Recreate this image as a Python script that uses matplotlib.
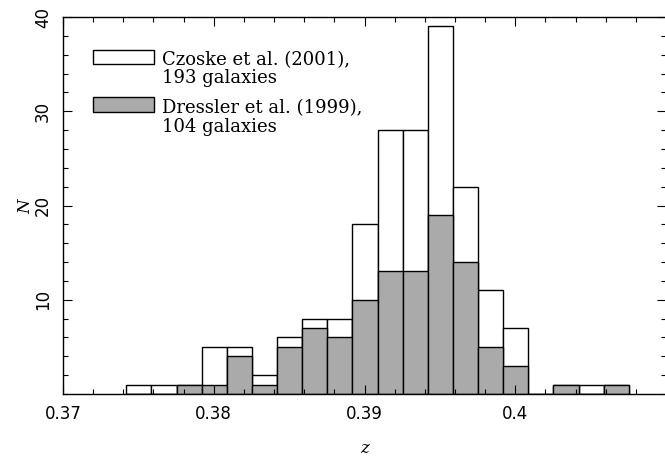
import numpy as np
import matplotlib.pyplot as plt
from matplotlib.patches import Rectangle
from matplotlib.ticker import MultipleLocator

# --------------------------------------------------
# Histogram counts per redshift bin
# --------------------------------------------------
bin_edges = np.linspace(0.3742, 0.40753, 21)
czoske_counts = [1, 1, 1, 5, 5, 2, 6, 8, 8, 18, 28, 28, 39, 22, 11, 7, 0, 1, 1, 1]
dressler_counts = [0, 0, 1, 1, 4, 1, 5, 7, 6, 10, 13, 13, 19, 14, 5, 3, 0, 1, 0, 1]

czoske_label = ["Czoske et al. (2001),", "193 galaxies"]
dressler_label = ["Dressler et al. (1999),", "104 galaxies"]

x_ticks = [0.37, 0.38, 0.39, 0.40]
x_tick_labels = ["0.37", "0.38", "0.39", "0.4"]
y_ticks = [10, 20, 30, 40]

GRAY = "#aaaaaa"

fig = plt.figure(figsize=(6.65, 4.57), dpi=100)
ax = fig.add_axes([63 / 665, 1 - 394 / 457, 603 / 665, 377 / 457])

widths = np.diff(bin_edges)
ax.bar(bin_edges[:-1], czoske_counts, width=widths, align="edge",
       facecolor="white", edgecolor="black", linewidth=1.0)
ax.bar(bin_edges[:-1], dressler_counts, width=widths, align="edge",
       facecolor=GRAY, edgecolor="black", linewidth=1.0)

ax.set_xlim(0.37, 0.41)
ax.set_ylim(0, 40)

ax.set_xticks(x_ticks)
ax.set_xticklabels(x_tick_labels)
ax.set_yticks(y_ticks)
ax.set_yticklabels([str(v) for v in y_ticks], rotation=90, va="center")
ax.xaxis.set_minor_locator(MultipleLocator(0.002))
ax.yaxis.set_minor_locator(MultipleLocator(2))

ax.tick_params(which="both", direction="in", top=True, right=True,
               width=0.8, labelsize=12, pad=8)
ax.tick_params(which="major", length=6.5)
ax.tick_params(which="minor", length=3.3)
for lab in ax.get_xticklabels() + ax.get_yticklabels():
    lab.set_family("DejaVu Sans")
for sp in ax.spines.values():
    sp.set_linewidth(1.0)

ax.set_xlabel("z", family="DejaVu Serif", style="italic", fontsize=12)
ax.set_ylabel("N", family="DejaVu Serif", style="italic", fontsize=12)
ax.xaxis.set_label_coords(0.5008, -0.121)
ax.yaxis.set_label_coords(-0.048, 0.496)

# --------------------------------------------------
# Legend drawn by hand (boxes + two-line text)
# --------------------------------------------------
for y0, h, face, lines, bases in [
    (0.875, 0.037, "white", czoske_label, (0.8727, 0.825)),
    (0.748, 0.040, GRAY, dressler_label, (0.745, 0.695)),
]:
    ax.add_patch(Rectangle((0.0498, y0), 0.101, h, transform=ax.transAxes,
                           facecolor=face, edgecolor="black", linewidth=1.0))
    for txt, yb in zip(lines, bases):
        ax.text(0.164, yb, txt, transform=ax.transAxes, ha="left",
                va="baseline", family="DejaVu Serif", fontsize=13)

fig.savefig("out.png", dpi=100)
